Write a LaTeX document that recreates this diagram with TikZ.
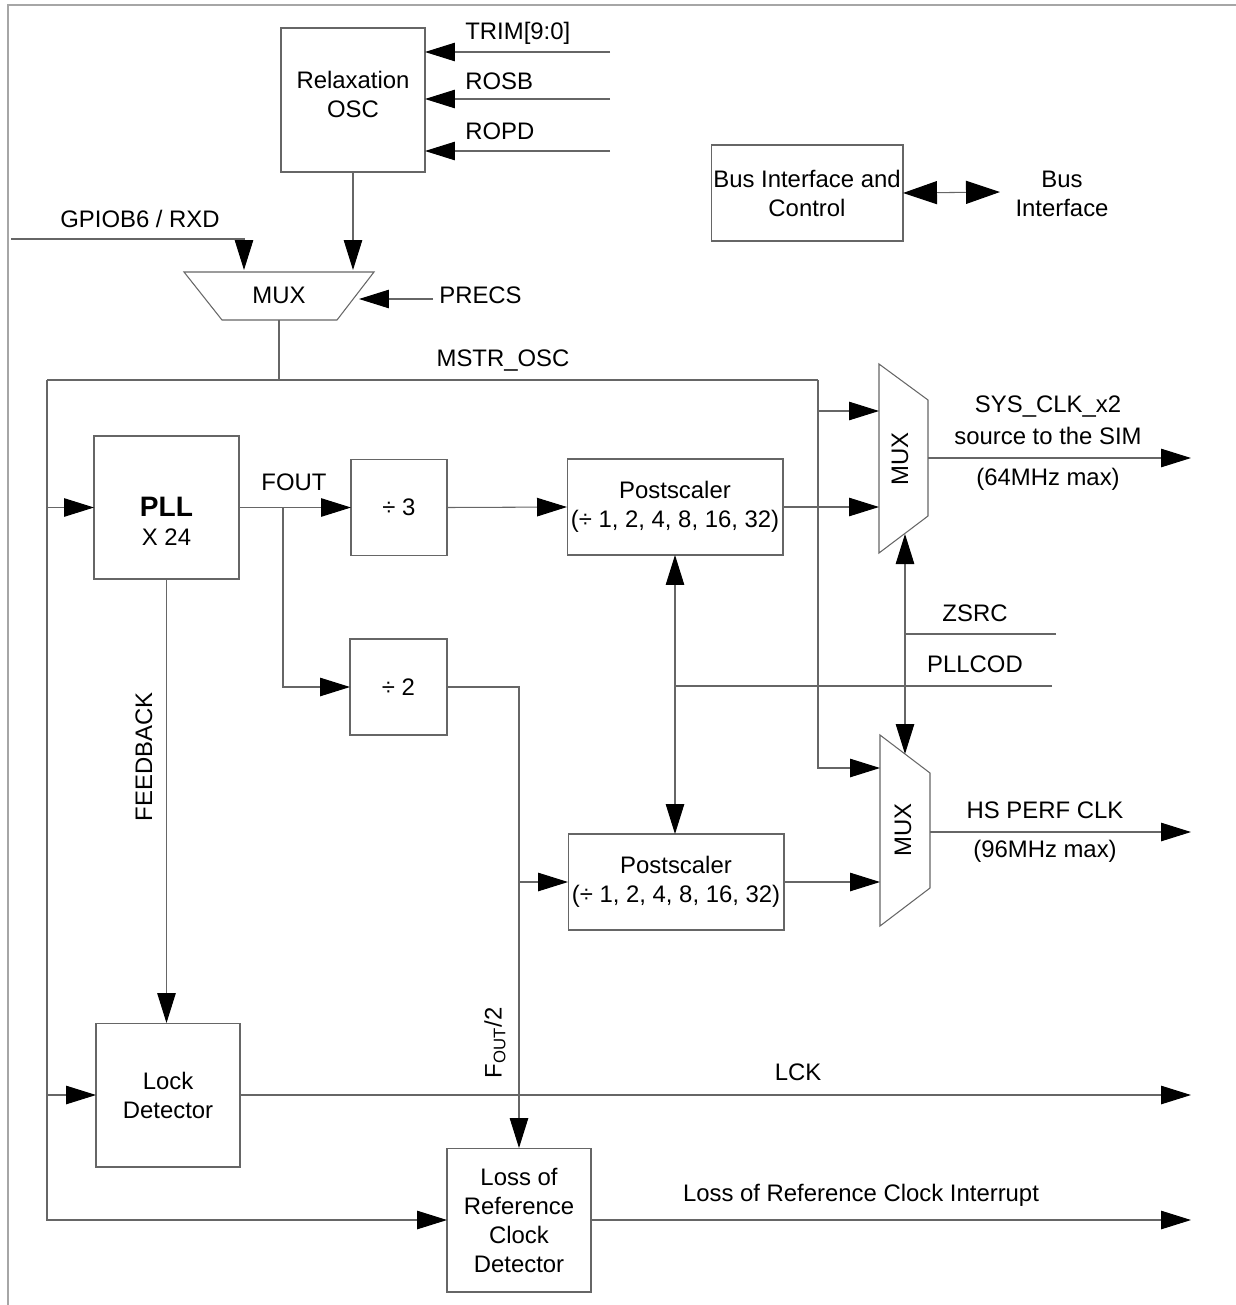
\documentclass[tikz,border=0pt]{standalone}
\usepackage{fontspec}
\setmainfont{Liberation Sans}
\usetikzlibrary{arrows.meta}

\begin{document}
\begin{tikzpicture}[
    x=0.02cm, y=-0.02cm,
    every node/.style={align=center, inner sep=0pt, font=\fontsize{13.6}{16.5}\selectfont},
    wire/.style={draw=black!60, line width=0.6pt},
    blk/.style={wire, outer sep=0pt},
    bigtip/.style={>={Triangle[length=6.8mm, width=4.6mm, color=black]}},
    >={Triangle[length=6mm, width=3.7mm, color=black]}
]
    \useasboundingbox (0,0) rectangle (1236,1305);
    \draw[black!35, line width=1pt] (8,1305) -- (8,5) -- (1236,5);

    % blocks
    \node[blk, minimum width=2.88cm, minimum height=2.88cm] (osc) at (353,100) {};
    \node (osctxt) at (353,94) {Relaxation\\OSC};
    \node[blk, minimum width=2.9cm, minimum height=2.86cm] (pll) at (166.5,507.5) {};
    \node (plltxt) at (166.5,521) {{\fontsize{16}{19}\selectfont\bfseries PLL}\\X 24};
    \node[blk, minimum width=1.92cm, minimum height=1.92cm] (div3) at (399,507.5) {÷ 3};
    \node[blk, minimum width=1.94cm, minimum height=1.92cm] (div2) at (398.5,687) {÷ 2};
    \node[blk, minimum width=4.32cm, minimum height=1.92cm] (ps1) at (675,507) {Postscaler\\(÷ 1, 2, 4, 8, 16, 32)};
    \node[blk, minimum width=4.32cm, minimum height=1.92cm] (ps2) at (676,882) {Postscaler\\(÷ 1, 2, 4, 8, 16, 32)};
    \node[blk, minimum width=2.88cm, minimum height=2.88cm] (lock) at (168,1095) {Lock\\Detector};
    \node[blk, minimum width=2.88cm, minimum height=2.88cm] (lor) at (519,1220) {Loss of\\Reference\\Clock\\Detector};
    \node[blk, minimum width=3.84cm, minimum height=1.92cm] (bus) at (807,193) {Bus Interface and\\Control};

    % multiplexers
    \draw[wire] (184,272) -- (374,272) -- (337,320) -- (222,320) -- cycle;
    \node (muxa) at (279,295) {MUX};
    \draw[wire] (879,364) -- (928,400) -- (928,516) -- (879,553) -- cycle;
    \node[rotate=90] (muxb) at (900,459) {MUX};
    \draw[wire] (880,735) -- (930,773) -- (930,888) -- (880,926) -- cycle;
    \node[rotate=90] (muxc) at (903,830) {MUX};

    \coordinate (muxain1) at (244,270);
    \coordinate (muxain2) at (353,270);
    \coordinate (muxasel) at (359,299);
    \coordinate (muxaout) at (279,320);
    \coordinate (muxbin1) at (879,411);
    \coordinate (muxbin2) at (879,507);
    \coordinate (muxbsel) at (905,534);
    \coordinate (muxbout) at (928,458);
    \coordinate (muxcin1) at (880,768);
    \coordinate (muxcin2) at (880,882);
    \coordinate (muxcsel) at (905,754);
    \coordinate (muxcout) at (930,832);

    % free ends
    \coordinate (trim) at (610,52);
    \coordinate (rosb) at (610,99);
    \coordinate (ropd) at (610,151);
    \coordinate (gpio) at (11,239);
    \coordinate (precs) at (433,299);
    \coordinate (mstr) at (279,380);
    \coordinate (busl) at (47,380);
    \coordinate (busr) at (818,380);
    \coordinate (fsplit) at (283,507);
    \coordinate (sysclk) at (1191,458);
    \coordinate (hsclk) at (1191,832);
    \coordinate (zsrc) at (1056,634);
    \coordinate (pllcod) at (1052,686);
    \coordinate (lck) at (1191,1095);
    \coordinate (lorint) at (1191,1220);
    \coordinate (busif) at (1000,192);

    % labels
    \node[anchor=west] (trimlbl) at (465,33) {TRIM[9:0]};
    \node[anchor=west] (rosblbl) at (465,81) {ROSB};
    \node[anchor=west] (ropdlbl) at (465,131) {ROPD};
    \node (gpiolbl) at (140,219) {GPIOB6 / RXD};
    \node[anchor=west] (precslbl) at (439,295) {PRECS};
    \node (mstrlbl) at (503,361) {MSTR\_OSC};
    \node (foutlbl) at (294,482) {FOUT};
    \node (sys1lbl) at (1048,406.5) {SYS\_CLK\_x2};
    \node (sys2lbl) at (1048,436) {source to the SIM};
    \node (sys3lbl) at (1048,479) {(64MHz max)};
    \node (zsrclbl) at (975,613) {ZSRC};
    \node (pllcodlbl) at (975,664) {PLLCOD};
    \node (hs1lbl) at (1045,810) {HS PERF CLK};
    \node (hs2lbl) at (1045,851) {(96MHz max)};
    \node[rotate=90] (fblbl) at (144,757) {FEEDBACK};
    \node[rotate=90] (f2lbl) at (495,1043) {F\textsubscript{OUT}/2};
    \node (lcklbl) at (798,1072) {LCK};
    \node (lorlbl) at (861,1195) {Loss of Reference Clock Interrupt};
    \node (busiflbl) at (1062,193.5) {Bus\\Interface};

    % connections
    \draw[wire, ->] (trim) -- (trim -| osc.east);
    \draw[wire, ->] (rosb) -- (rosb -| osc.east);
    \draw[wire, ->] (ropd) -- (ropd -| osc.east);
    \draw[wire, ->] (osc.south) -- (muxain2);
    \draw[wire, ->] (gpio) -| (muxain1);
    \draw[wire, ->] (precs) -- (muxasel);
    \draw[wire] (muxaout) -- (mstr);
    \draw[wire] (busl) -- (busr);
    \draw[wire, ->] (busl) |- (lor.west);
    \draw[wire, ->] (busl |- pll.west) -- (pll.west);
    \draw[wire, ->] (busl |- lock.west) -- (lock.west);
    \draw[wire, ->] (busr) |- (muxcin1);
    \draw[wire, ->] (busr |- muxbin1) -- (muxbin1);
    \draw[wire, ->] (pll.east) -- (div3.west);
    \draw[wire, ->] (fsplit) |- (div2.west);
    \draw[wire, ->] (div3.east) -- (ps1.west);
    \draw[wire, ->] (ps1.east) -- (muxbin2);
    \draw[wire, ->] (muxbout) -- (sysclk);
    \draw[wire, <->] (muxbsel) -- (muxcsel);
    \draw[wire] (zsrc) -- (zsrc -| muxbsel);
    \draw[wire] (pllcod) -- (pllcod -| ps1.south);
    \draw[wire, <->] (ps1.south) -- (ps1.south |- ps2.north);
    \draw[wire, ->] (div2.east) -| (lor.north);
    \draw[wire, ->] (lor.north |- ps2.west) -- (ps2.west);
    \draw[wire, ->] (ps2.east) -- (muxcin2);
    \draw[wire, ->] (muxcout) -- (hsclk);
    \draw[wire, ->] (pll.south) -- (pll.south |- lock.north);
    \draw[wire, ->] (lock.east) -- (lck);
    \draw[wire, ->] (lor.east) -- (lorint);
    \draw[wire, bigtip, <->] (bus.east) -- (busif);
\end{tikzpicture}
\end{document}
